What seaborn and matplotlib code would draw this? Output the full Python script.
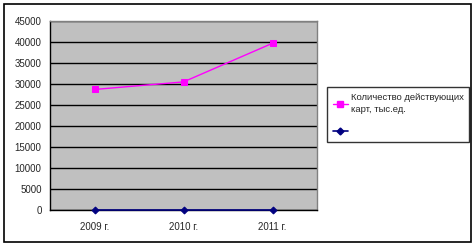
import matplotlib
matplotlib.use("Agg")
import matplotlib.pyplot as plt
import seaborn as sns
import pandas as pd
from matplotlib.patches import Rectangle
from matplotlib.lines import Line2D

categories = ["2009 г.", "2010 г.", "2011 г."]
cards = [28700, 30500, 39700]
second = [0, 0, 0]
series_label = "Количество действующих\nкарт, тыс.ед."
y_ticks = [0, 5000, 10000, 15000, 20000, 25000, 30000, 35000, 40000, 45000]

sns.set_style("white")
plt.rcParams['font.family'] = ['Liberation Sans', 'DejaVu Sans']

df = pd.DataFrame({"x": range(len(categories)), "cards": cards, "second": second})

fig = plt.figure(figsize=(4.76, 2.46), dpi=100)
fig.patches.append(Rectangle((4/476, 4/246), 467/476, 238/246, transform=fig.transFigure,
                             fill=False, edgecolor='black', linewidth=1.2, zorder=0))
ax = fig.add_axes([50/476, 36/246, 267/476, 189/246])
ax.set_facecolor('#C0C0C0')

sns.lineplot(data=df, x="x", y="cards", ax=ax, color='#FF00FF', marker='s', markersize=5,
             markeredgecolor='#FF00FF', linewidth=1, zorder=3)
sns.lineplot(data=df, x="x", y="second", ax=ax, color='#000080', marker='D', markersize=3.5,
             markeredgecolor='#000080', linewidth=1.2, zorder=3, clip_on=False)

ax.set_xlim(-0.5, len(categories) - 0.5)
ax.set_ylim(0, 45000)
ax.set_yticks(y_ticks)
ax.set_yticklabels([str(v) for v in y_ticks], fontsize=7)
ax.set_xticks(range(len(categories)))
ax.set_xticklabels(categories, fontsize=7)
ax.set_xticks([0.5, 1.5, 2.5], minor=True)
ax.tick_params(axis='x', which='major', length=0, pad=9)
ax.tick_params(axis='x', which='minor', length=4, width=1, color='black', direction='out')
ax.tick_params(axis='y', which='major', length=4, width=1, color='black', direction='out', pad=2)
ax.set_xlabel("")
ax.set_ylabel("")
ax.yaxis.grid(True, color='black', linewidth=1)
ax.set_axisbelow(True)
for s in ['top', 'right']:
    ax.spines[s].set_color('#808080')
    ax.spines[s].set_linewidth(1)
for s in ['left', 'bottom']:
    ax.spines[s].set_color('black')
    ax.spines[s].set_linewidth(1)

handles = [Line2D([], [], color='#FF00FF', marker='s', markersize=5, linewidth=1),
           Line2D([], [], color='#000080', marker='D', markersize=3.5, linewidth=1.2)]
leg = fig.legend(handles, [series_label, " "], loc='upper left',
                 bbox_to_anchor=(327/476, 1 - 87/246), fontsize=6.8, frameon=True,
                 fancybox=False, edgecolor='black', handlelength=1.6, handletextpad=0.3,
                 borderpad=0.6, labelspacing=1.35, borderaxespad=0)
leg.get_frame().set_linewidth(1)
leg.get_frame().set_facecolor('white')
for t in leg.get_texts():
    t.set_linespacing(1.5)

fig.savefig("out.png", dpi=100)
